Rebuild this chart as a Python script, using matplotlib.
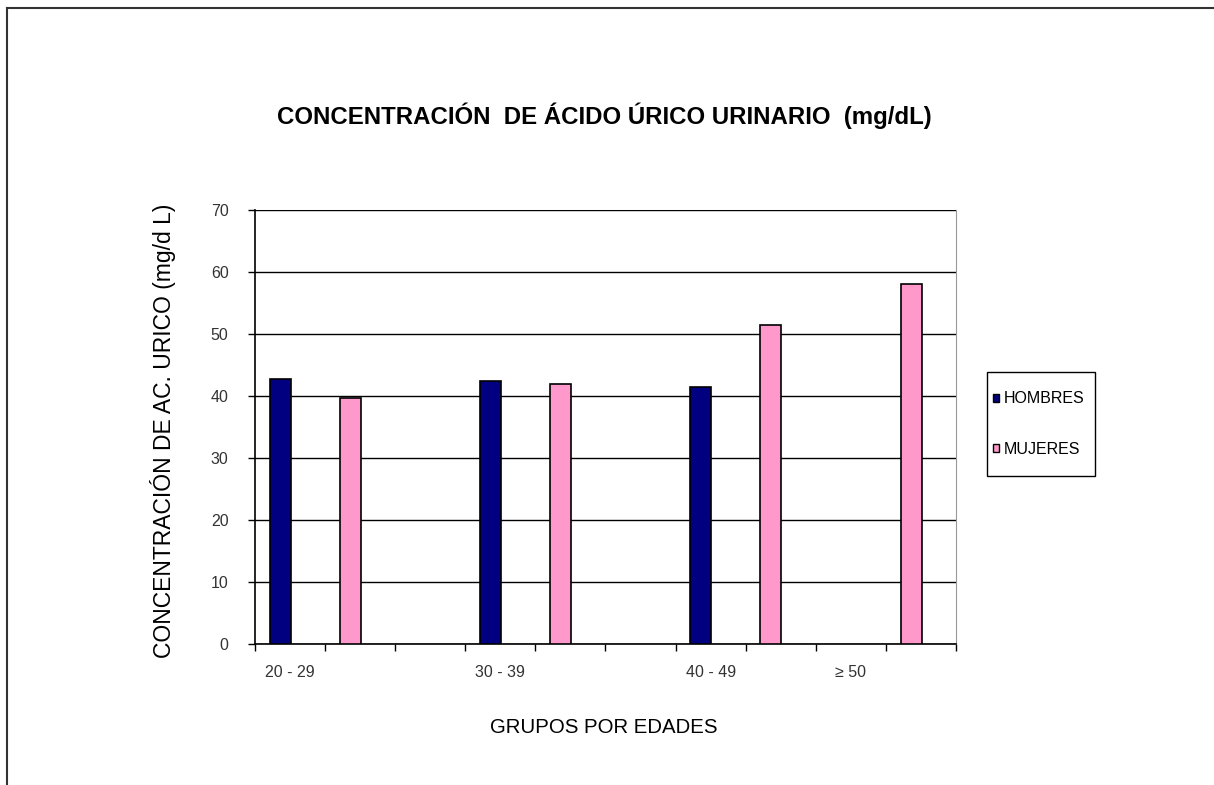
import numpy as np
import matplotlib
matplotlib.use("Agg")
import matplotlib.pyplot as plt
from matplotlib.patches import Patch, Rectangle
from matplotlib.lines import Line2D

plt.rcParams['font.family'] = ['Liberation Sans', 'DejaVu Sans']

# age groups and their slot on the category axis (10 slots as in the original sheet)
groups = ["20 - 29", "30 - 39", "40 - 49", "≥ 50"]
group_slot = [0, 3, 6, 8]
hombres = [42.7, 42.4, 41.4, np.nan]
mujeres = [39.6, 42.0, 51.4, 58.0]
n_slots = 10

navy = "#000080"
pink = "#FF99CC"

fig = plt.figure(figsize=(12.14, 7.85), dpi=100)
ax = fig.add_axes([0.2100, 0.1796, 0.5775, 0.5529])

slots = np.array(group_slot, dtype=float)
bw = 0.3
for s, h in zip(slots, hombres):
    if not np.isnan(h):
        ax.bar(s + 0.36, h, width=bw, color=navy, edgecolor='black', linewidth=1.2, zorder=3)
for s, m in zip(slots, mujeres):
    ax.bar(s + 1.36, m, width=bw, color=pink, edgecolor='black', linewidth=1.2, zorder=3)

ax.set_xlim(0, n_slots)
ax.set_ylim(0, 70)
ax.set_yticks(np.arange(0, 71, 10))
ax.yaxis.grid(True, color='black', linewidth=1.0)
ax.set_axisbelow(True)

# category ticks every slot, labels only for the groups
ax.set_xticks(np.arange(0, n_slots + 1))
ax.set_xticklabels([])
ax.set_xticks(slots + 0.5, minor=True)
ax.set_xticklabels(groups, minor=True)
ax.tick_params(axis='x', which='minor', length=0, pad=15, labelsize=11.5, labelcolor='#333333')
ax.tick_params(axis='x', which='major', direction='out', length=5, width=1)
ax.tick_params(axis='y', direction='out', length=5, width=1, pad=14, labelsize=11.5, labelcolor='#333333')

ax.spines['top'].set_visible(False)
ax.spines['right'].set_color('#999999')
ax.spines['left'].set_linewidth(1.2)
ax.spines['bottom'].set_linewidth(1.2)

fig.text(0.4975, 0.853, "CONCENTRACIÓN  DE ÁCIDO ÚRICO URINARIO  (mg/dL)",
         ha='center', va='center', fontsize=17.3, weight='bold')
fig.text(0.134, 0.451, "CONCENTRACIÓN DE AC. URICO (mg/d L)", rotation=90,
         ha='center', va='center', fontsize=16.5)
fig.text(0.4975, 0.0735, "GRUPOS POR EDADES", ha='center', va='center', fontsize=14.7)

# legend box drawn as in the original (tall, narrow)
fig.add_artist(Rectangle((987 / 1214, 1 - 476 / 785), 108 / 1214, 104 / 785,
                         transform=fig.transFigure, facecolor='white', edgecolor='black', linewidth=1.0))
handles = [Patch(facecolor=navy, edgecolor='black', label='HOMBRES'),
           Patch(facecolor=pink, edgecolor='black', label='MUJERES')]
leg = fig.legend(handles=handles, loc='center left', bbox_to_anchor=(993 / 1214, 1 - 424 / 785),
                 fontsize=11.5, frameon=False,
                 handlelength=0.4, handleheight=0.4, handletextpad=0.3,
                 labelspacing=2.2, borderpad=0, borderaxespad=0)

# outer frame of the pasted chart (left and top edges)
fig.add_artist(Line2D([0.006, 0.006], [0.0, 0.99], transform=fig.transFigure, color='#333333', linewidth=1.5))
fig.add_artist(Line2D([0.006, 1.0], [0.99, 0.99], transform=fig.transFigure, color='#333333', linewidth=1.5))

fig.savefig("out.png", dpi=100)
